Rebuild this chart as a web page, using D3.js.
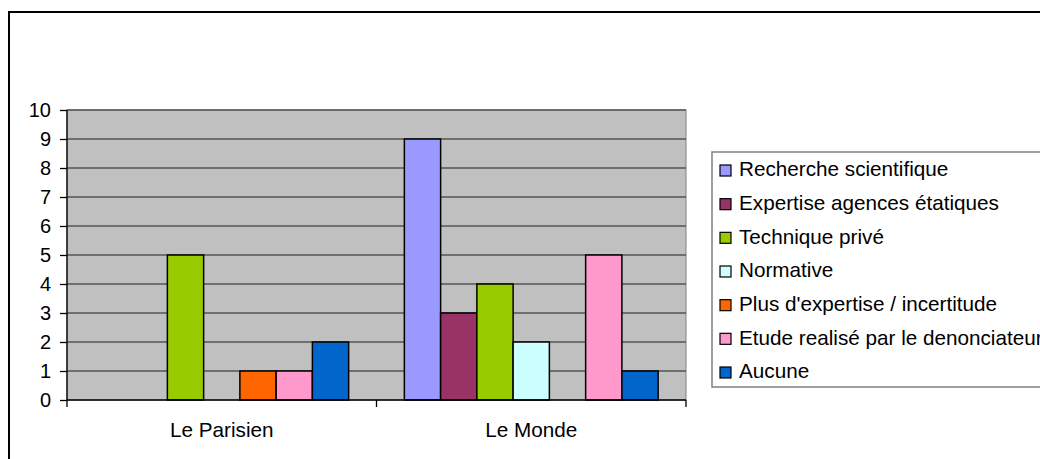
<!DOCTYPE html>
<html><head><meta charset="utf-8">
<script src="https://cdn.jsdelivr.net/npm/d3@7"></script>
<style>body{margin:0;background:#fff;}svg{display:block;font-family:"Liberation Sans",Arial,sans-serif;}</style>
</head><body>
<svg id="c" width="1040" height="459"></svg>
<script>
const categories = ["Le Parisien", "Le Monde"];
const seriesNames = ["Recherche scientifique", "Expertise agences étatiques", "Technique privé", "Normative", "Plus d'expertise / incertitude", "Etude realisé par le denonciateur", "Aucune"];
const seriesColors = ["#9999FF", "#993366", "#99CC00", "#CCFFFF", "#FF6600", "#FF99CC", "#0066CC"];
const valuesParisien = [0, 0, 5, 0, 1, 1, 2];
const valuesMonde = [9, 3, 4, 2, 0, 5, 1];
const yTicks = [0,1,2,3,4,5,6,7,8,9,10];

const values = [valuesParisien, valuesMonde];
const svg = d3.select("#c");
const L = 67, R = 686, T = 110, B = 400;
const FS = 20, FSL = 20.7;

// outer border
svg.append("rect").attr("x", 9).attr("y", 12).attr("width", 1040).attr("height", 500)
  .attr("fill", "#fff").attr("stroke", "#000").attr("stroke-width", 2);

const x0 = d3.scaleBand().domain(categories).range([L, R]).paddingInner(0.18).paddingOuter(0.09);
const x1 = d3.scaleBand().domain(seriesNames).range([0, x0.bandwidth()]);
const y = d3.scaleLinear().domain([0, 10]).range([B, T]);

svg.append("rect").attr("x", L).attr("y", T).attr("width", R - L).attr("height", B - T)
  .attr("fill", "#C0C0C0").attr("stroke", "#808080").attr("stroke-width", 1);

// gridlines
svg.append("g").selectAll("line").data(yTicks.slice(1)).join("line")
  .attr("x1", L).attr("x2", R).attr("y1", d => y(d)).attr("y2", d => y(d))
  .attr("stroke", "#555").attr("stroke-width", 1.3);

// bars
categories.forEach((c, ci) => {
  svg.append("g").selectAll("rect").data(seriesNames.map((s, si) => ({s, si, v: values[ci][si]})).filter(d => d.v > 0))
    .join("rect")
    .attr("x", d => x0(c) + x1(d.s))
    .attr("y", d => y(d.v))
    .attr("width", x1.bandwidth())
    .attr("height", d => y(0) - y(d.v))
    .attr("fill", d => seriesColors[d.si])
    .attr("stroke", "#000").attr("stroke-width", 1.5);
});

// y axis
const yAxis = d3.axisLeft(y).tickValues(yTicks).tickSize(7).tickPadding(9).tickFormat(d3.format("d"));
const ga = svg.append("g").attr("transform", `translate(${L},0)`).call(yAxis);
ga.select(".domain").attr("stroke", "#000").attr("stroke-width", 1.3).attr("d", `M0,${B}V${T}`);
ga.selectAll(".tick line").attr("stroke", "#000").attr("stroke-width", 1.3);
ga.selectAll("text").attr("font-size", FS).attr("fill", "#000").attr("font-family", "Liberation Sans, Arial, sans-serif");

// x axis
const xAxis = d3.axisBottom(x0).tickSize(0).tickPadding(22);
const gx = svg.append("g").attr("transform", `translate(0,${B})`).call(xAxis);
gx.select(".domain").attr("stroke", "#000").attr("stroke-width", 1.3).attr("d", `M${L},0H${R}`);
gx.selectAll("text").attr("font-size", FSL).attr("fill", "#000").attr("font-family", "Liberation Sans, Arial, sans-serif");
// category separator ticks
const sepTicks = [L, (x0("Le Parisien") + x0.bandwidth() + x0("Le Monde")) / 2, R];
gx.selectAll("line.sep").data(sepTicks).join("line").attr("class", "sep")
  .attr("x1", d => d).attr("x2", d => d).attr("y1", 0).attr("y2", 7)
  .attr("stroke", "#000").attr("stroke-width", 1.3);

// legend
const lg = svg.append("g");
lg.append("rect").attr("x", 712).attr("y", 152).attr("width", 400).attr("height", 235)
  .attr("fill", "#fff").attr("stroke", "#808080").attr("stroke-width", 1.5);
const ly = d3.scalePoint().domain(seriesNames).range([169, 371]);
const items = lg.selectAll("g.it").data(seriesNames).join("g").attr("class", "it")
  .attr("transform", d => `translate(720,${ly(d)})`);
items.append("rect").attr("x", 0).attr("y", -4).attr("width", 11).attr("height", 11)
  .attr("fill", (d, i) => seriesColors[i]).attr("stroke", "#000").attr("stroke-width", 1.2);
items.append("text").attr("x", 19).attr("y", 0).attr("dy", "0.35em").attr("font-size", FSL).text(d => d);
</script>
</body></html>
